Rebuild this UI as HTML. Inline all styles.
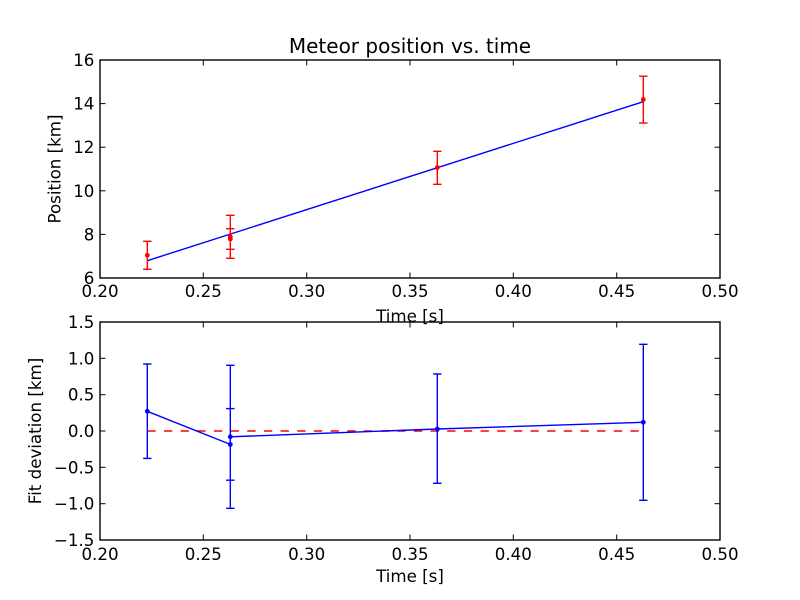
<!DOCTYPE html>
<html>
<head>
<meta charset="utf-8">
<style>
  html, body { margin:0; padding:0; background:#ffffff; }
  svg { display:block; }
  text { font-family: "DejaVu Sans", "Liberation Sans", sans-serif; fill:#000; }
</style>
</head>
<body>
<svg width="800" height="600" viewBox="0 0 800 600" xmlns="http://www.w3.org/2000/svg">
  <rect x="0" y="0" width="800" height="600" fill="#ffffff"/>

  <!-- ================= TOP AXES ================= -->
  <text x="410" y="53" font-size="20" text-anchor="middle">Meteor position vs. time</text>

  <!-- fit line -->
  <line x1="147.3" y1="260.7" x2="643.3" y2="101.7" stroke="#0000ff" stroke-width="1.4"/>

  <!-- red error bars -->
  <g stroke="#ff0000" stroke-width="1.4" fill="none">
    <!-- P1 -->
    <line x1="147.3" y1="241.3" x2="147.3" y2="269.3"/>
    <line x1="143.1" y1="241.3" x2="151.5" y2="241.3"/>
    <line x1="143.1" y1="269.3" x2="151.5" y2="269.3"/>
    <!-- P2a -->
    <line x1="230.3" y1="215.3" x2="230.3" y2="258.3"/>
    <line x1="226.1" y1="215.3" x2="234.5" y2="215.3"/>
    <line x1="226.1" y1="258.3" x2="234.5" y2="258.3"/>
    <!-- P2b -->
    <line x1="226.1" y1="228.7" x2="234.5" y2="228.7"/>
    <line x1="226.1" y1="249.3" x2="234.5" y2="249.3"/>
    <!-- P3 -->
    <line x1="437.3" y1="151.3" x2="437.3" y2="184.3"/>
    <line x1="433.1" y1="151.3" x2="441.5" y2="151.3"/>
    <line x1="433.1" y1="184.3" x2="441.5" y2="184.3"/>
    <!-- P4 -->
    <line x1="643.3" y1="76.2" x2="643.3" y2="123"/>
    <line x1="639.1" y1="76.2" x2="647.5" y2="76.2"/>
    <line x1="639.1" y1="123" x2="647.5" y2="123"/>
  </g>
  <g fill="#ff0000">
    <circle cx="147.3" cy="255.3" r="2.4"/>
    <circle cx="230.3" cy="236.8" r="2.4"/>
    <circle cx="230.3" cy="239" r="2.4"/>
    <circle cx="437.3" cy="167.5" r="2.4"/>
    <circle cx="643.3" cy="99.4" r="2.4"/>
  </g>

  <!-- spines -->
  <rect x="100" y="60" width="620" height="218" fill="none" stroke="#000" stroke-width="1.4"/>

  <!-- ticks top axes -->
  <g stroke="#000" stroke-width="1">
    <!-- x ticks bottom & top -->
    <line x1="203.3" y1="278" x2="203.3" y2="272.5"/><line x1="203.3" y1="60" x2="203.3" y2="65.5"/>
    <line x1="306.7" y1="278" x2="306.7" y2="272.5"/><line x1="306.7" y1="60" x2="306.7" y2="65.5"/>
    <line x1="410" y1="278" x2="410" y2="272.5"/><line x1="410" y1="60" x2="410" y2="65.5"/>
    <line x1="513.3" y1="278" x2="513.3" y2="272.5"/><line x1="513.3" y1="60" x2="513.3" y2="65.5"/>
    <line x1="616.7" y1="278" x2="616.7" y2="272.5"/><line x1="616.7" y1="60" x2="616.7" y2="65.5"/>
    <!-- y ticks left & right -->
    <line x1="100" y1="234.4" x2="105.5" y2="234.4"/><line x1="720" y1="234.4" x2="714.5" y2="234.4"/>
    <line x1="100" y1="190.8" x2="105.5" y2="190.8"/><line x1="720" y1="190.8" x2="714.5" y2="190.8"/>
    <line x1="100" y1="147.2" x2="105.5" y2="147.2"/><line x1="720" y1="147.2" x2="714.5" y2="147.2"/>
    <line x1="100" y1="103.6" x2="105.5" y2="103.6"/><line x1="720" y1="103.6" x2="714.5" y2="103.6"/>
  </g>

  <!-- tick labels top -->
  <g font-size="16.67" text-anchor="middle">
    <text x="100" y="297">0.20</text>
    <text x="203.3" y="297">0.25</text>
    <text x="306.7" y="297">0.30</text>
    <text x="410" y="297">0.35</text>
    <text x="513.3" y="297">0.40</text>
    <text x="616.7" y="297">0.45</text>
    <text x="720" y="297">0.50</text>
  </g>
  <g font-size="16.67" text-anchor="end">
    <text x="94.4" y="284">6</text>
    <text x="94.4" y="240.4">8</text>
    <text x="94.4" y="196.8">10</text>
    <text x="94.4" y="153.2">12</text>
    <text x="94.4" y="109.6">14</text>
    <text x="94.4" y="66">16</text>
  </g>
  <text x="410" y="322" font-size="16.67" text-anchor="middle">Time [s]</text>
  <text transform="translate(60.7,169) rotate(-90)" font-size="16.67" text-anchor="middle">Position [km]</text>

  <!-- ================= BOTTOM AXES ================= -->
  <!-- dashed zero line -->
  <line x1="147.3" y1="431" x2="643.3" y2="431" stroke="#ff0000" stroke-width="1.4" stroke-dasharray="8.33 8.33"/>

  <!-- residual line -->
  <polyline points="147.3,411.3 230.3,444.4 230.3,436.8 437.3,429 643.3,422.3" fill="none" stroke="#0000ff" stroke-width="1.4"/>

  <g stroke="#0000ff" stroke-width="1.4" fill="none">
    <!-- B1 -->
    <line x1="147.3" y1="364" x2="147.3" y2="458.4"/>
    <line x1="143.1" y1="364" x2="151.5" y2="364"/>
    <line x1="143.1" y1="458.4" x2="151.5" y2="458.4"/>
    <!-- B2a -->
    <line x1="230.3" y1="365.3" x2="230.3" y2="508.3"/>
    <line x1="226.1" y1="365.3" x2="234.5" y2="365.3"/>
    <line x1="226.1" y1="508.3" x2="234.5" y2="508.3"/>
    <!-- B2b -->
    <line x1="226.1" y1="408.6" x2="234.5" y2="408.6"/>
    <line x1="226.1" y1="480.2" x2="234.5" y2="480.2"/>
    <!-- B3 -->
    <line x1="437.3" y1="374" x2="437.3" y2="483.3"/>
    <line x1="433.1" y1="374" x2="441.5" y2="374"/>
    <line x1="433.1" y1="483.3" x2="441.5" y2="483.3"/>
    <!-- B4 -->
    <line x1="643.3" y1="344.3" x2="643.3" y2="500.3"/>
    <line x1="639.1" y1="344.3" x2="647.5" y2="344.3"/>
    <line x1="639.1" y1="500.3" x2="647.5" y2="500.3"/>
  </g>
  <g fill="#0000ff">
    <circle cx="147.3" cy="411.3" r="2.4"/>
    <circle cx="230.3" cy="444.4" r="2.4"/>
    <circle cx="230.3" cy="436.8" r="2.4"/>
    <circle cx="437.3" cy="429" r="2.4"/>
    <circle cx="643.3" cy="422.3" r="2.4"/>
  </g>

  <rect x="100" y="322" width="620" height="218" fill="none" stroke="#000" stroke-width="1.4"/>

  <g stroke="#000" stroke-width="1">
    <line x1="203.3" y1="540" x2="203.3" y2="534.5"/><line x1="203.3" y1="322" x2="203.3" y2="327.5"/>
    <line x1="306.7" y1="540" x2="306.7" y2="534.5"/><line x1="306.7" y1="322" x2="306.7" y2="327.5"/>
    <line x1="410" y1="540" x2="410" y2="534.5"/><line x1="410" y1="322" x2="410" y2="327.5"/>
    <line x1="513.3" y1="540" x2="513.3" y2="534.5"/><line x1="513.3" y1="322" x2="513.3" y2="327.5"/>
    <line x1="616.7" y1="540" x2="616.7" y2="534.5"/><line x1="616.7" y1="322" x2="616.7" y2="327.5"/>
    <line x1="100" y1="503.7" x2="105.5" y2="503.7"/><line x1="720" y1="503.7" x2="714.5" y2="503.7"/>
    <line x1="100" y1="467.3" x2="105.5" y2="467.3"/><line x1="720" y1="467.3" x2="714.5" y2="467.3"/>
    <line x1="100" y1="431" x2="105.5" y2="431"/><line x1="720" y1="431" x2="714.5" y2="431"/>
    <line x1="100" y1="394.7" x2="105.5" y2="394.7"/><line x1="720" y1="394.7" x2="714.5" y2="394.7"/>
    <line x1="100" y1="358.3" x2="105.5" y2="358.3"/><line x1="720" y1="358.3" x2="714.5" y2="358.3"/>
  </g>

  <g font-size="16.67" text-anchor="middle">
    <text x="100" y="560">0.20</text>
    <text x="203.3" y="560">0.25</text>
    <text x="306.7" y="560">0.30</text>
    <text x="410" y="560">0.35</text>
    <text x="513.3" y="560">0.40</text>
    <text x="616.7" y="560">0.45</text>
    <text x="720" y="560">0.50</text>
  </g>
  <g font-size="16.67" text-anchor="end">
    <text x="94.4" y="546">−1.5</text>
    <text x="94.4" y="509.7">−1.0</text>
    <text x="94.4" y="473.3">−0.5</text>
    <text x="94.4" y="437">0.0</text>
    <text x="94.4" y="400.7">0.5</text>
    <text x="94.4" y="364.3">1.0</text>
    <text x="94.4" y="328">1.5</text>
  </g>
  <text x="410" y="582" font-size="16.67" text-anchor="middle">Time [s]</text>
  <text transform="translate(41,431) rotate(-90)" font-size="16.67" text-anchor="middle">Fit deviation [km]</text>
</svg>
</body>
</html>
